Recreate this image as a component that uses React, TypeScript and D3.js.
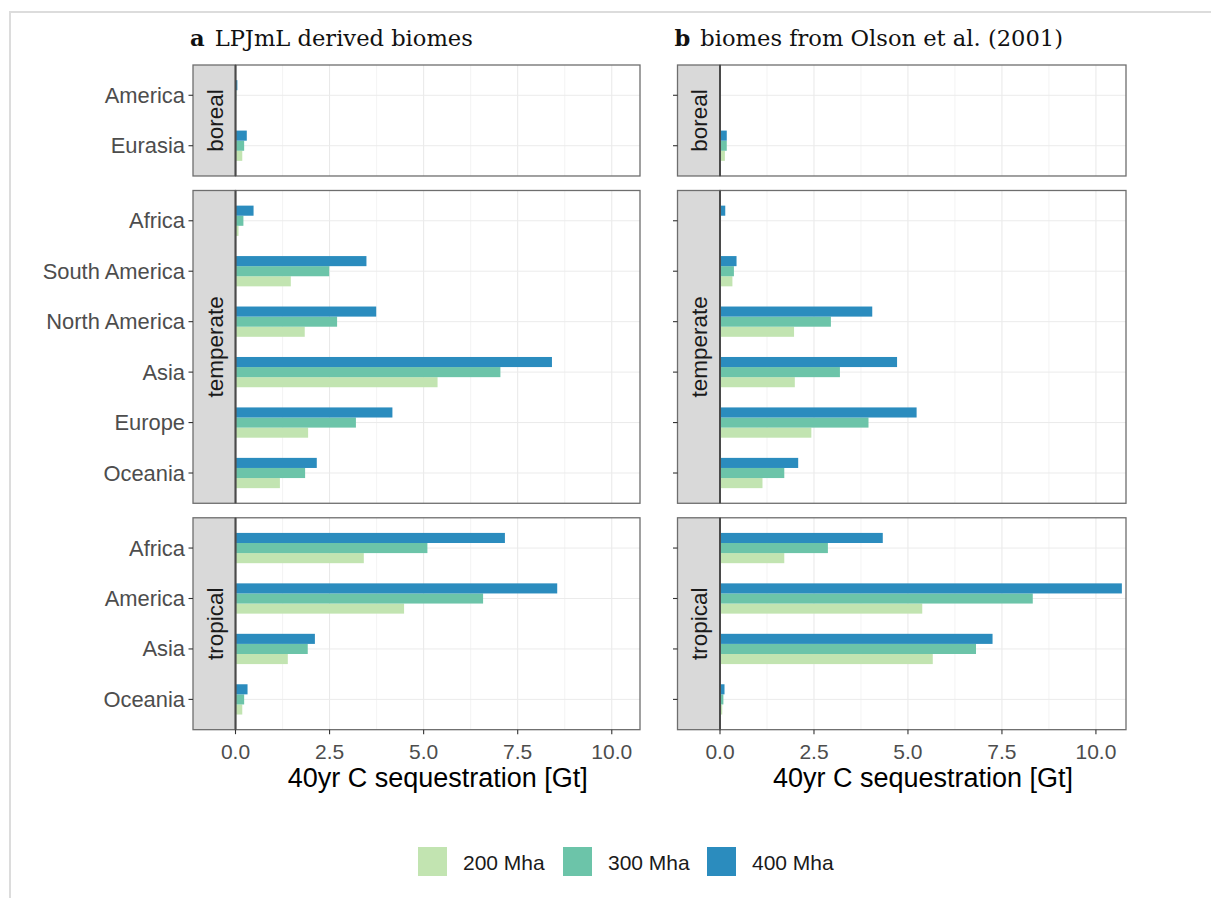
import React from "react";
import * as d3 from "d3";

const scenarios = ["200 Mha", "300 Mha", "400 Mha"];
const scenarioColors = ["#c2e4b1", "#6cc4a9", "#2b8cbe"];
const biomes = ["boreal", "temperate", "tropical"];
const borealRegions = ["America", "Eurasia"];
const temperateRegions = ["Africa", "South America", "North America", "Asia", "Europe", "Oceania"];
const tropicalRegions = ["Africa", "America", "Asia", "Oceania"];
const xTicks = [0, 2.5, 5, 7.5, 10];
const xMinor = [1.25, 3.75, 6.25, 8.75];

// values ordered: boreal (2), temperate (6), tropical (4)
const lpjml200 = [0.01, 0.18, 0.08, 1.47, 1.84, 5.37, 1.93, 1.18, 3.41, 4.48, 1.39, 0.18];
const lpjml300 = [0.02, 0.23, 0.21, 2.49, 2.7, 7.04, 3.2, 1.85, 5.1, 6.58, 1.92, 0.23];
const lpjml400 = [0.05, 0.3, 0.48, 3.48, 3.74, 8.41, 4.17, 2.16, 7.16, 8.55, 2.11, 0.32];
const olson200 = [0, 0.13, 0, 0.33, 1.97, 1.99, 2.43, 1.13, 1.71, 5.38, 5.66, 0.06];
const olson300 = [0, 0.18, 0, 0.37, 2.95, 3.19, 3.95, 1.71, 2.87, 8.32, 6.81, 0.09];
const olson400 = [0, 0.18, 0.14, 0.44, 4.05, 4.71, 5.23, 2.08, 4.33, 10.69, 7.25, 0.12];

const panelTitles = [
  { letter: "a", text: "LPJmL derived biomes" },
  { letter: "b", text: "biomes from Olson et al. (2001)" },
];

const SANS = "'Liberation Sans', Arial, Helvetica, sans-serif";
const SERIF = "'DejaVu Serif', serif";

const regionsByBiome = [borealRegions, temperateRegions, tropicalRegions];
const STEP = 50.45;
const TOP = 65;
const GAP = 14.5;
const STRIP_W = 42.5;

function rowLayout() {
  let y = TOP;
  return regionsByBiome.map((regs) => {
    const h = STEP * (regs.length - 1 + 1.2);
    const scale = d3.scalePoint<string>().domain(regs).range([y, y + h]).padding(0.6);
    const r = { top: y, bottom: y + h, scale, regs };
    y += h + GAP;
    return r;
  });
}

function Panel({ idx, zeroX, rightX, domainMax, series, showLabels }: any) {
  const rows = rowLayout();
  const x = d3.scaleLinear().domain([0, domainMax]).range([zeroX, rightX]);
  const inner = d3.scaleBand<string>().domain([...scenarios].reverse()).range([-0.3 * STEP, 0.3 * STEP]);
  const stripX = zeroX - STRIP_W;
  const last = rows[rows.length - 1];
  let offset = 0;
  const title = panelTitles[idx];
  return (
    <g>
      <text x={stripX - 3} y={46} fontFamily={SERIF} fontSize={22.6} fill="#111">
        <tspan fontWeight="bold">{title.letter}</tspan>
        <tspan dx={10}>{title.text}</tspan>
      </text>
      {rows.map((row, bi) => {
        const start = offset;
        offset += row.regs.length;
        return (
          <g key={bi}>
            <rect x={zeroX} y={row.top} width={rightX - zeroX} height={row.bottom - row.top} fill="#fff" />
            {xMinor.map((t) => (
              <line key={"m" + t} x1={x(t)} x2={x(t)} y1={row.top} y2={row.bottom} stroke="#f0f0f0" strokeWidth={0.8} />
            ))}
            {xTicks.map((t) => (
              <line key={"M" + t} x1={x(t)} x2={x(t)} y1={row.top} y2={row.bottom} stroke="#e8e8e8" strokeWidth={1} />
            ))}
            {row.regs.map((r) => (
              <line key={"h" + r} x1={zeroX} x2={rightX} y1={row.scale(r)} y2={row.scale(r)} stroke="#ebebeb" strokeWidth={1} />
            ))}
            {row.regs.map((r, ri) =>
              scenarios.map((s, si) => {
                const v = series[si][start + ri];
                return (
                  <rect
                    key={r + s}
                    x={x(0)}
                    y={(row.scale(r) as number) + (inner(s) as number)}
                    width={Math.max(0, x(v) - x(0))}
                    height={inner.bandwidth()}
                    fill={scenarioColors[si]}
                  />
                );
              })
            )}
            <rect x={zeroX} y={row.top} width={rightX - zeroX} height={row.bottom - row.top} fill="none" stroke="#6e6e6e" strokeWidth={1.3} />
            <rect x={stripX} y={row.top} width={STRIP_W} height={row.bottom - row.top} fill="#d9d9d9" stroke="#6e6e6e" strokeWidth={1.3} />
            <line x1={zeroX} x2={zeroX} y1={row.top} y2={row.bottom} stroke="#4a4a4a" strokeWidth={2} />
            <text
              transform={`translate(${stripX + STRIP_W / 2 + 1},${(row.top + row.bottom) / 2}) rotate(-90)`}
              textAnchor="middle"
              dominantBaseline="central"
              fontFamily={SANS}
              fontSize={22.5}
              fill="#1a1a1a"
            >
              {biomes[bi]}
            </text>
            {row.regs.map((r) => (
              <g key={"t" + r}>
                <line x1={stripX - 4.5} x2={stripX} y1={row.scale(r)} y2={row.scale(r)} stroke="#333" strokeWidth={1.1} />
                {showLabels && (
                  <text x={stripX - 8} y={row.scale(r)} textAnchor="end" dominantBaseline="central" fontFamily={SANS} fontSize={21.9} fill="#4d4d4d">
                    {r}
                  </text>
                )}
              </g>
            ))}
          </g>
        );
      })}
      {xTicks.map((t) => (
        <g key={"xt" + t}>
          <line x1={x(t)} x2={x(t)} y1={last.bottom} y2={last.bottom + 4.5} stroke="#333" strokeWidth={1.1} />
          <text x={x(t)} y={last.bottom + 22} textAnchor="middle" dominantBaseline="central" fontFamily={SANS} fontSize={21} fill="#4d4d4d">
            {d3.format(".1f")(t)}
          </text>
        </g>
      ))}
      <text x={(zeroX + rightX) / 2} y={787} textAnchor="middle" fontFamily={SANS} fontSize={27} fill="#000">
        40yr C sequestration [Gt]
      </text>
    </g>
  );
}

export default function App() {
  const legendX = [418, 563, 707];
  return (
    <div style={{ position: "absolute", left: 0, top: 0 }}>
      <svg width={1211} height={898} style={{ display: "block", background: "#fff" }}>
        <rect x={10} y={12} width={1220} height={900} fill="none" stroke="#dcdcdc" strokeWidth={2} />
        <Panel idx={0} zeroX={235.5} rightX={640} domainMax={10.75} series={[lpjml200, lpjml300, lpjml400]} showLabels={true} />
        <Panel idx={1} zeroX={720} rightX={1126} domainMax={10.8} series={[olson200, olson300, olson400]} showLabels={false} />
        {scenarios.map((s, i) => (
          <g key={s}>
            <rect x={legendX[i]} y={847} width={29} height={29} fill={scenarioColors[i]} />
            <text x={legendX[i] + 45} y={862} dominantBaseline="central" fontFamily={SANS} fontSize={21} fill="#1a1a1a">
              {s}
            </text>
          </g>
        ))}
      </svg>
    </div>
  );
}
